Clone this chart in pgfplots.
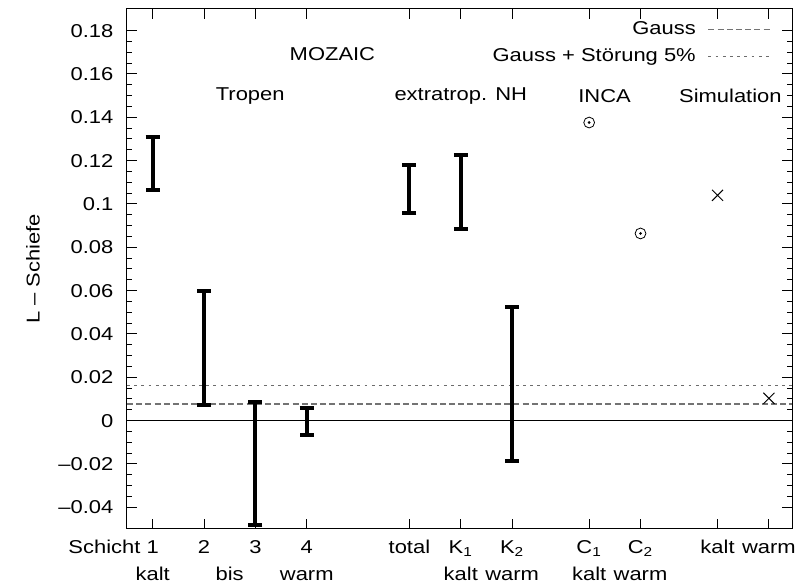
\documentclass[border=0pt]{standalone}
\usepackage{pgfplots}
\pgfplotsset{compat=1.18}
\usepackage{fontspec}
\setmainfont{Liberation Sans}[FakeStretch=1.18]
\begin{document}
\fontsize{9.3}{11}\selectfont
\begin{tikzpicture}
\begin{axis}[
  scale only axis,
  width=332.5pt, height=260pt,
  xmin=0.5, xmax=13.45,
  ymin=-0.05, ymax=0.19,
  font=\fontsize{9.3}{11}\selectfont,
  ytick={-0.04,-0.02,0,0.02,0.04,0.06,0.08,0.1,0.12,0.14,0.16,0.18},
  yticklabels={--0.04,--0.02,0,0.02,0.04,0.06,0.08,0.1,0.12,0.14,0.16,0.18},
  minor y tick num=3,
  major tick length=5pt, minor tick length=2.5pt,
  tick style={black, line width=0.5pt},
  axis line style={line width=0.5pt},
  yticklabel style={xshift=-3.5pt},
  xtick={1,2,3,4,6,7,8,9.5,10.5,12,13},
  xticklabels={\llap{Schicht }1,2,3,4,total,K\textsubscript{1},K\textsubscript{2},C\textsubscript{1},C\textsubscript{2},kalt,warm},
  xticklabel style={text height=7pt, text depth=2pt, yshift=-2pt},
  extra x ticks={1,2.5,4,7,8,9.5,10.5},
  extra x tick labels={kalt,bis,warm,kalt,warm,kalt,warm},
  extra x tick style={major tick length=0pt, tick style={draw=none}, xticklabel style={yshift=-13.5pt}},
  ylabel={L -- Schiefe},
  ylabel style={at={(axis description cs:-0.1414,0.5)}, anchor=center},
  legend style={draw=none, fill=none, at={(rel axis cs:0.978,0.992)}, anchor=north east, row sep=1.5pt, font=\fontsize{9.3}{11}\selectfont,
    /tikz/every odd column/.append style={column sep=4pt}},
  legend cell align=right,
  legend plot pos=right,
  legend image code/.code={\draw[#1] (0pt,0pt) -- (31pt,0pt);},
]
% reference lines
\addplot[gray!90!black, dash pattern=on 3pt off 1.6pt, line width=0.6pt] coordinates {(0.5,0.0077) (13.45,0.0077)};
\addlegendentry{Gauss}
\addplot[gray!85!black, dash pattern=on 1.4pt off 2.2pt, line width=0.6pt] coordinates {(0.5,0.0162) (13.45,0.0162)};
\addlegendentry{Gauss + Störung 5\%}
\addplot[black, line width=0.5pt, forget plot] coordinates {(0.5,0) (13.45,0)};
% error bars (center, half range)
\addplot[draw=none, mark=none, forget plot,
  error bars/.cd, y dir=both, y explicit,
  error bar style={draw=black, line width=2pt},
  error mark options={draw=black, rotate=90, mark size=3.5pt, line width=2pt}]
  coordinates {
  (1,0.1188) +- (0,0.0123)
  (2,0.0336) +- (0,0.0264)
  (3,-0.0198) +- (0,0.0283)
  (4,-0.0003) +- (0,0.0063)
  (6,0.1069) +- (0,0.0112)
  (7,0.1055) +- (0,0.0172)
  (8,0.0169) +- (0,0.0354)
  };
% INCA
\addplot[black, only marks, mark=o, mark size=2.7pt, line width=0.4pt, forget plot] coordinates {(9.5,0.1376) (10.5,0.0864)};
\addplot[black, only marks, mark=*, mark size=0.45pt, forget plot] coordinates {(9.5,0.1376) (10.5,0.0864)};
% Simulation
\addplot[black, only marks, mark=x, mark size=3.9pt, line width=0.5pt, forget plot] coordinates {(12,0.104) (13,0.0103)};
% labels
\node at (axis cs:4.5,0.169) {MOZAIC};
\node at (axis cs:2.9,0.150) {Tropen};
\node at (axis cs:7.0,0.150) {extratrop. NH};
\node at (axis cs:9.8,0.150) {INCA};
\node at (axis cs:12.25,0.150) {Simulation};
\end{axis}
\pgfresetboundingbox
\path ([shift={(-63.5pt,-27pt)}]current axis.south west) rectangle ([shift={(3pt,4.5pt)}]current axis.north east);
\end{tikzpicture}
\end{document}
